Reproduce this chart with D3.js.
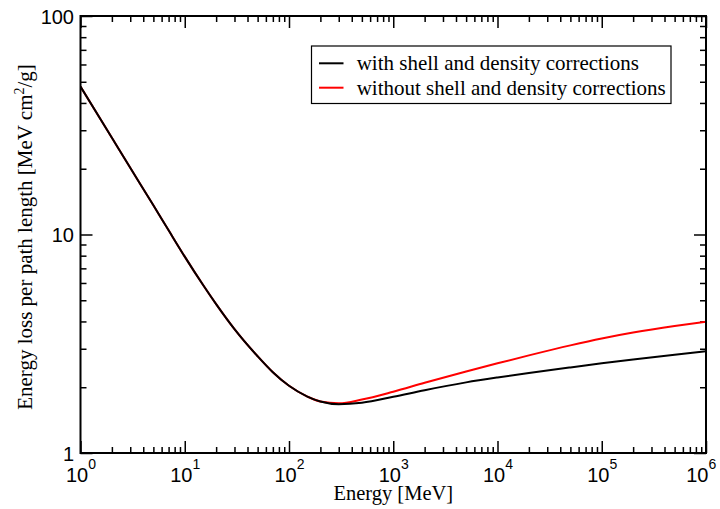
<!DOCTYPE html>
<html>
<head>
<meta charset="utf-8">
<script src="https://cdn.jsdelivr.net/npm/d3@7"></script>
<style>
  html, body { margin: 0; padding: 0; background: #fff; }
  svg { display: block; font-family: "Liberation Serif", "Times New Roman", serif; }
</style>
</head>
<body>
<svg id="chart" width="720" height="509"></svg>
<script>
// ---- data ----
const energy = [1, 2, 3, 5, 7, 10, 15, 20, 30, 50, 70, 100, 150, 200, 300, 500, 1000, 2000, 5000, 1e4, 2e4, 5e4, 1e5, 2e5, 5e5, 1e6];
const withCorrections = [47.5, 27.7, 20.2, 13.6, 10.45, 7.92, 5.87, 4.80, 3.688, 2.771, 2.342, 2.030, 1.813, 1.721, 1.673, 1.699, 1.808, 1.939, 2.105, 2.217, 2.325, 2.465, 2.572, 2.677, 2.817, 2.920];
const withoutCorrections = [47.5, 27.7, 20.2, 13.6, 10.45, 7.92, 5.87, 4.80, 3.688, 2.771, 2.342, 2.030, 1.813, 1.721, 1.688, 1.756, 1.908, 2.096, 2.360, 2.573, 2.797, 3.108, 3.342, 3.557, 3.811, 3.987];
const xMajorTicks = [1, 10, 100, 1000, 1e4, 1e5, 1e6];
const xTickExponents = ["0", "1", "2", "3", "4", "5", "6"];
const yMajorTicks = [1, 10, 100];
const yTickLabels = ["1", "10", "100"];
const seriesNames = ["with shell and density corrections", "without shell and density corrections"];
const seriesColors = ["#000000", "#ff0000"];
const xTitle = "Energy [MeV]";

// ---- layout ----
const svg = d3.select("#chart");
const L = 80.5, R = 706, T = 16, B = 453;

const x = d3.scaleLog().domain([1, 1e6]).range([L, R]);
const y = d3.scaleLog().domain([1, 100]).range([B, T]);

function minors(lo, hi) {
  const out = [];
  for (let p = lo; p < hi; p *= 10)
    for (let k = 2; k <= 9; k++) out.push(p * k);
  return out;
}
const xMinor = minors(1, 1e6);
const yMinor = minors(1, 100);

const MAJ = 12, MIN = 6;

function styleAxis(g) {
  g.select(".domain").remove();
  g.selectAll(".tick line").attr("stroke", "#000").attr("stroke-width", 1.5);
}

// bottom
svg.append("g").attr("transform", `translate(0,${B})`)
  .call(d3.axisBottom(x).tickValues(xMinor).tickSize(-MIN).tickFormat(""))
  .call(styleAxis);
const xb = svg.append("g").attr("transform", `translate(0,${B})`)
  .call(d3.axisBottom(x).tickValues(xMajorTicks).tickSize(-MAJ).tickPadding(0).tickFormat(""))
  .call(styleAxis);
xb.selectAll(".tick").each(function(d, i) {
  const t = d3.select(this).append("text")
    .attr("y", 29).attr("fill", "#000").attr("text-anchor", "middle")
    .style("font-size", "20px");
  t.append("tspan").text("10");
  t.append("tspan").attr("dy", -13).style("font-size", "14px").text(xTickExponents[i]);
  // keep the label inside the page
  const bb = this.getBBox ? t.node().getBBox() : null;
  const gx = x(d);
  if (bb && gx + bb.x + bb.width > 716) t.attr("x", 716 - (gx + bb.x + bb.width));
});
// top
svg.append("g").attr("transform", `translate(0,${T})`)
  .call(d3.axisTop(x).tickValues(xMinor).tickSize(-MIN).tickFormat(""))
  .call(styleAxis);
svg.append("g").attr("transform", `translate(0,${T})`)
  .call(d3.axisTop(x).tickValues(xMajorTicks).tickSize(-MAJ).tickFormat(""))
  .call(styleAxis);
// left
svg.append("g").attr("transform", `translate(${L},0)`)
  .call(d3.axisLeft(y).tickValues(yMinor).tickSize(-MIN).tickFormat(""))
  .call(styleAxis);
const yl = svg.append("g").attr("transform", `translate(${L},0)`)
  .call(d3.axisLeft(y).tickValues(yMajorTicks).tickSize(-MAJ).tickFormat(""))
  .call(styleAxis);
yl.selectAll(".tick").append("text")
  .attr("x", -6.5).attr("dy", "0.35em").attr("text-anchor", "end")
  .attr("fill", "#000").style("font-size", "20px")
  .text((d, i) => yTickLabels[i]);
// right
svg.append("g").attr("transform", `translate(${R},0)`)
  .call(d3.axisRight(y).tickValues(yMinor).tickSize(-MIN).tickFormat(""))
  .call(styleAxis);
svg.append("g").attr("transform", `translate(${R},0)`)
  .call(d3.axisRight(y).tickValues(yMajorTicks).tickSize(-MAJ).tickFormat(""))
  .call(styleAxis);

// curves
const line = d3.line().x(d => x(d[0])).y(d => y(d[1])).curve(d3.curveMonotoneX);
svg.append("clipPath").attr("id", "clip").append("rect")
  .attr("x", L).attr("y", T).attr("width", R - L).attr("height", B - T);
const series = [withCorrections, withoutCorrections];
[1, 0].forEach(si => {
  svg.append("path")
    .datum(energy.map((e, i) => [e, series[si][i]]))
    .attr("d", line)
    .attr("fill", "none")
    .attr("stroke", seriesColors[si])
    .attr("stroke-width", 2)
    .attr("clip-path", "url(#clip)");
});

// frame
svg.append("rect").attr("x", L).attr("y", T).attr("width", R - L).attr("height", B - T)
  .attr("fill", "none").attr("stroke", "#000").attr("stroke-width", 2);

// axis titles
svg.append("text").attr("x", (L + R) / 2).attr("y", 500).attr("text-anchor", "middle")
  .style("font-size", "20.5px").text(xTitle);
const yt = svg.append("text").attr("transform", "translate(32,237) rotate(-90)")
  .attr("text-anchor", "middle").style("font-size", "21px");
yt.append("tspan").text("Energy loss per path length [MeV cm");
yt.append("tspan").attr("dy", -8).style("font-size", "14px").text("2");
yt.append("tspan").attr("dy", 8).text("/g]");

// legend
const lg = svg.append("g");
lg.append("rect").attr("x", 311.5).attr("y", 46).attr("width", 359.5).attr("height", 57.5)
  .attr("fill", "#fff").attr("stroke", "#000").attr("stroke-width", 1.2);
seriesNames.forEach((name, i) => {
  const ly = 63.3 + i * 24.4;
  lg.append("line").attr("x1", 319).attr("x2", 343.5).attr("y1", ly).attr("y2", ly)
    .attr("stroke", seriesColors[i]).attr("stroke-width", 2);
  lg.append("text").attr("x", 356.7).attr("y", ly).attr("dy", "0.33em")
    .style("font-size", "21px").text(name);
});
</script>
</body>
</html>
